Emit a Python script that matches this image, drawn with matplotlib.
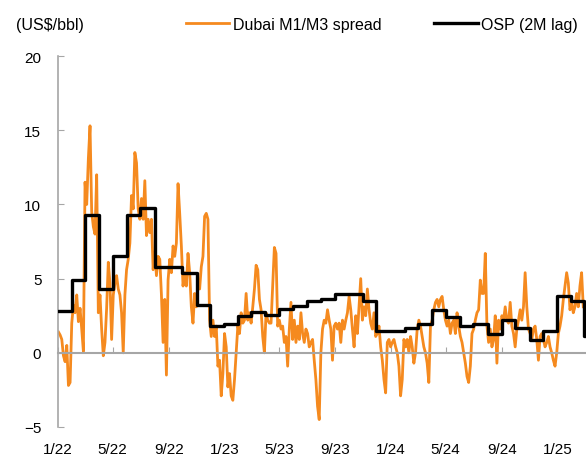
import numpy as np
import pandas as pd
import matplotlib
matplotlib.use('Agg')
import matplotlib.pyplot as plt
import matplotlib.dates as mdates

# Dubai M1/M3 spread (roughly every 3-4 days)
spread = [
    1.4, 1.2, 0.9, -0.2, -0.6, 0.5, -2.2, -2.0, 2.0, 3.2, 2.7, 3.9, 2.1, 3.0, 1.6, 0.1,
    11.5, 10.0, 13.1, 15.3, 9.5, 8.5, 8.0, 12.0, 2.7, 3.9, 1.6, -0.2, 0.7, 3.0, 6.1, 4.7,
    0.9, 3.9, 4.7, 5.2, 4.3, 3.9, 2.7, 0.0, 3.9, 5.6, 6.3, 7.4, 10.6, 9.7, 13.5, 12.8,
    9.7, 9.0, 10.4, 9.0, 11.6, 7.9, 9.0, 8.1, 9.0, 5.6, 6.8, 5.2, 6.5, 6.3, 3.9, 0.7, 3.6,
    # 9/22 - 1/23
    -1.5, 4.9, 6.3, 5.4, 7.2, 6.5, 7.4, 11.4, 9.4, 7.2, 4.5, 5.4, 4.5, 6.7, 5.4, 3.1,
    2.0, 4.0, 3.1, 4.7, 4.3, 5.8, 6.5, 9.2, 9.4, 9.0, 2.2, 1.1, 2.2, 1.1, 1.8, -0.9,
    -0.5, -2.9, -1.4, 1.3, 0.4, -2.3, -1.4, -2.9, -3.2, -1.8, 0.0, 1.8, 1.3, 2.7, 2.0, 2.2,
    4.0, 2.2, 2.7, 2.0, 3.1, 4.3, 5.9, 5.6, 3.6, 2.9, 1.1, 0.0, 2.7, 2.2, 2.0,
    # 4/23 - 11/23
    2.0, 4.5, 7.1, 6.7, 1.8, 2.2, 1.6, 1.8, 0.7, 1.1, -0.9, 1.6, 3.4, 0.9, 2.2, 0.7,
    1.8, 0.9, 2.7, 1.3, 0.7, 1.6, 1.3, 0.4, 0.7, 0.9, -0.5, -1.8, -3.6, -4.5, 0.0, 1.6,
    2.2, 2.0, 2.9, 2.2, 1.6, -0.5, 1.8, 2.0, 1.6, 2.0, 0.7, 2.2, 1.6, 2.2, 2.7, 3.8,
    2.9, 1.6, 0.4, 2.5, 1.3, 3.1, 5.0, 2.2, 3.1, 2.5, 4.3, 2.9, 2.0, 1.6, 2.7,
    # 12/23 - 7/24
    1.1, 1.3, 1.8, 0.4, -0.5, -1.8, -2.7, 0.7, 0.9, 0.4, 0.7, 0.9, 0.4, 0.0, -0.9, -2.9,
    -1.8, 0.9, 0.4, 0.9, 0.0, 1.1, 0.4, -0.7, 0.0, 1.6, 2.2, 1.8, 1.1, 0.4, 0.0, -0.7,
    -2.0, 1.8, 2.2, 2.9, 3.4, 3.6, 3.1, 3.6, 3.8, 2.9, 2.2, 1.8, 2.2, 1.3, 2.0, 2.2,
    1.3, 2.7, 1.8, 1.1, 0.7, 0.0, -0.7, -1.6, -2.0, -0.9, 1.3, 1.6, 2.2, 2.7, 2.9,
    # 8/24 - 2/25
    4.9, 4.0, 4.0, 6.7, 1.8, 0.7, 1.6, 0.4, 0.9, 2.5, -0.7, 2.2, 1.6, 2.5, 2.2, 3.1,
    2.2, 2.0, 3.4, 1.8, 1.3, 0.4, 1.6, 2.2, 2.9, 2.2, 3.1, 5.4, 3.1, 1.6, 1.3, 0.9,
    1.6, 1.8, 0.9, -0.5, 1.1, 1.3, 0.9, 0.4, 0.7, 1.1, 0.4, 0.0, -0.5, -0.9, 0.0, 1.3,
    1.8, 2.5, 3.6, 4.5, 5.4, 4.7, 2.9, 3.4, 2.7, 3.1, 4.0, 3.1, 4.5, 5.4, 3.1,
]
spread_dates = pd.date_range('2022-01-02', '2025-02-27', periods=len(spread))

# OSP (2M lag), monthly
osp_months = pd.date_range('2022-01-01', '2025-03-01', freq='MS')
osp = [2.8, 4.9, 9.3, 4.3, 6.5, 9.3, 9.75, 5.8, 5.8, 5.4, 3.2, 1.8,
       1.95, 2.45, 2.72, 2.55, 2.95, 3.18, 3.5, 3.6, 3.94, 3.94, 3.5, 1.44,
       1.44, 1.67, 1.93, 2.88, 2.39, 1.78, 1.93, 1.26, 2.18, 1.67, 0.88, 1.49,
       3.85, 3.5, 1.1]

tick_dates = pd.date_range('2022-01-01', '2025-01-01', freq='4MS')
tick_labels = [f'{d.month}/{d.strftime("%y")}' for d in tick_dates]
x_end = pd.Timestamp('2025-03-05')

plt.rcParams['font.family'] = ['Liberation Sans', 'DejaVu Sans']
plt.rcParams['font.size'] = 11

gray = '#a6a6a6'
fig = plt.figure(figsize=(5.86, 4.64), dpi=100)
ax = fig.add_axes([0.099, 0.0776, 0.901, 0.7994])

ax.plot(spread_dates, spread, color='#f58a1f', lw=2.0, label='Dubai M1/M3 spread', zorder=2)
osp_x = list(osp_months) + [x_end]
osp_y = osp + [osp[-1]]
ax.plot(osp_x, osp_y, color='black', lw=2.4, drawstyle='steps-post', label='OSP (2M lag)', zorder=3)

ax.set_xlim(pd.Timestamp('2022-01-01'), x_end)
ax.set_ylim(-5, 20)
ax.set_yticks([-5, 0, 5, 10, 15, 20])

for s in ['top', 'right']:
    ax.spines[s].set_visible(False)
ax.spines['left'].set_color(gray)
ax.spines['left'].set_linewidth(1.2)
ax.spines['bottom'].set_position(('data', 0))
ax.spines['bottom'].set_color(gray)
ax.spines['bottom'].set_linewidth(1.5)

ax.set_xticks(tick_dates)
ax.tick_params(axis='x', direction='in', length=4, color=gray, labelbottom=False)
ax.tick_params(axis='y', direction='in', length=4, color=gray, pad=12, labelsize=11)

# date labels sit at the bottom of the plot, not on the zero line
sec = ax.secondary_xaxis('bottom')
sec.set_xticks(mdates.date2num(tick_dates), tick_labels)
sec.tick_params(length=0, pad=11, labelsize=11)
sec.spines['bottom'].set_visible(False)

fig.text(0.027, 0.946, '(US$/bbl)', fontsize=11.5, va='center', ha='left')
fig.legend(loc='center right', bbox_to_anchor=(0.997, 0.946), ncol=2, frameon=False,
           fontsize=11.5, handlelength=2.75, handletextpad=0.2, columnspacing=3.3,
           borderaxespad=0)

plt.savefig('out.png', dpi=100)
plt.close()
